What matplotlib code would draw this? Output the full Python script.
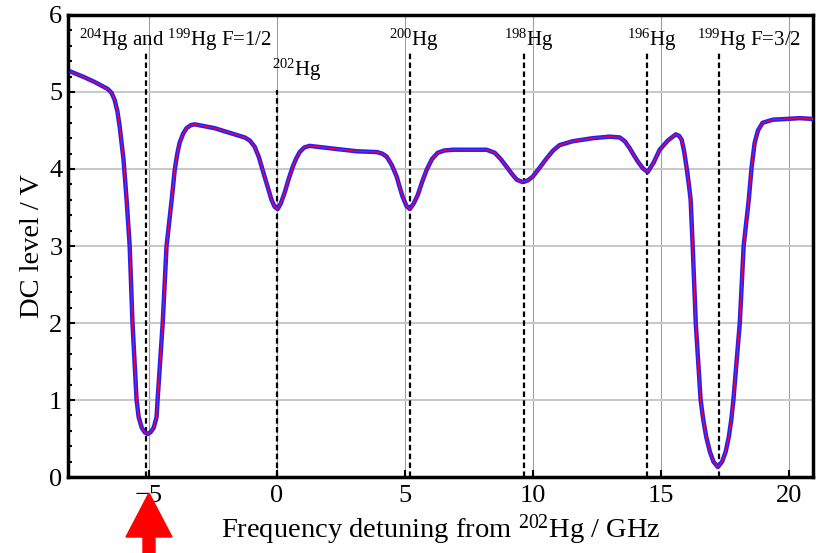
import numpy as np
import matplotlib.pyplot as plt
from matplotlib.patches import FancyArrow

plt.rcParams['font.family'] = ['Liberation Serif', 'DejaVu Serif']
plt.rcParams['mathtext.fontset'] = 'custom'
plt.rcParams['mathtext.rm'] = 'Liberation Serif'
plt.rcParams['mathtext.default'] = 'regular'

# spectrum (GHz, V)
freq = [-8.01, -7.50, -7.11, -6.60, -6.45, -6.33, -6.22, -6.13, -5.98, -5.86,
        -5.74, -5.63, -5.47, -5.39, -5.27, -5.15, -5.04, -4.93, -4.80, -4.69,
        -4.65, -4.45, -4.30, -4.10, -3.98, -3.88, -3.79, -3.65, -3.52, -3.35,
        -3.20, -2.42, -1.84, -1.25, -1.05, -0.86, -0.70, -0.55, -0.38, -0.20,
        -0.08, 0.04, 0.16, 0.31, 0.47, 0.63, 0.77, 0.90, 1.08, 1.29,
        2.07, 3.13, 3.91, 4.12, 4.30, 4.50, 4.69, 4.80, 4.92, 5.07,
        5.20, 5.35, 5.51, 5.68, 5.86, 6.07, 6.29, 6.55, 6.88, 8.20,
        8.52, 8.75, 8.98, 9.18, 9.38, 9.61, 9.80, 10.0, 10.28, 10.55,
        10.80, 11.05, 11.56, 12.34, 13.01, 13.40, 13.60, 13.79, 13.95, 14.10,
        14.30, 14.49, 14.72, 14.96, 15.28, 15.59, 15.72, 15.82, 15.92, 16.02,
        16.10, 16.17, 16.25, 16.37, 16.56, 16.66, 16.78, 16.92, 17.06, 17.23,
        17.40, 17.54, 17.66, 17.76, 17.84, 18.09, 18.24, 18.44,
        18.55, 18.67, 18.80, 18.98, 19.38, 20.43, 20.94]
dc = [5.26, 5.19, 5.13, 5.04, 4.99, 4.90, 4.75, 4.55, 4.12, 3.60,
      3.00, 2.00, 1.00, 0.78, 0.64, 0.58, 0.56, 0.58, 0.64, 0.78,
      1.00, 2.00, 3.00, 3.60, 3.99, 4.20, 4.34, 4.46, 4.53, 4.57,
      4.58, 4.53, 4.47, 4.41, 4.37, 4.29, 4.16, 3.99, 3.80, 3.60,
      3.51, 3.48, 3.55, 3.69, 3.87, 4.03, 4.14, 4.22, 4.28, 4.30,
      4.27, 4.23, 4.22, 4.20, 4.16, 4.05, 3.90, 3.77, 3.64, 3.52,
      3.48, 3.55, 3.66, 3.83, 3.99, 4.13, 4.21, 4.24, 4.25, 4.25,
      4.21, 4.13, 4.03, 3.94, 3.86, 3.83, 3.85, 3.90, 4.02, 4.14,
      4.24, 4.31, 4.36, 4.40, 4.42, 4.41, 4.36, 4.27, 4.18, 4.10,
      4.01, 3.96, 4.08, 4.25, 4.37, 4.45, 4.43, 4.38, 4.22, 4.00,
      3.80, 3.60, 3.00, 2.00, 1.00, 0.75, 0.52, 0.33, 0.20, 0.13,
      0.20, 0.33, 0.52, 0.75, 1.00, 2.00, 3.00, 3.60,
      4.02, 4.34, 4.50, 4.60, 4.64, 4.66, 4.65]

# isotope line positions and labels
line_pos = [-5.1, 0.0, 5.2, 9.65, 14.45, 17.27]
line_top = [5.52, 5.03, 5.52, 5.52, 5.52, 5.52]
labels = [r'$^{204}$Hg and $^{199}$Hg F=1/2', r'$^{202}$Hg', r'$^{200}$Hg',
          r'$^{198}$Hg', r'$^{196}$Hg', r'$^{199}$Hg F=3/2']
label_x = [-7.70, -0.20, 4.38, 8.87, 13.67, 16.41]
label_y = [5.60, 5.21, 5.60, 5.60, 5.60, 5.60]

fig = plt.figure(figsize=(8.19, 5.53), dpi=100)
ax = fig.add_axes([0.083, 0.1374, 0.9097, 0.8355])

for x in [-5, 0, 5, 10, 15, 20]:
    ax.axvline(x, color='#a0a0a0', lw=0.8, zorder=0)
for y in [1, 2, 3, 4, 5]:
    ax.axhline(y, color='#c8c8c8', lw=1.4, zorder=0)

for x, top in zip(line_pos, line_top):
    ax.plot([x, x], [0, top], color='k', lw=1.6, linestyle=(0, (2.5, 1.5)), zorder=2)

ax.plot(freq, dc, color='#2020ff', lw=3.2, solid_joinstyle='round', zorder=3)
ax.plot(freq, dc, color='#ff0030', lw=0.9, zorder=4)

for t, x, y in zip(labels, label_x, label_y):
    ax.text(x, y, t, fontsize=15, ha='left', va='baseline')

ax.set_xlim(-8.15, 20.95)
ax.set_ylim(0, 6)
ax.set_xticks([-5, 0, 5, 10, 15, 20])
ax.set_yticks([0, 1, 2, 3, 4, 5, 6])
ax.set_yticks(np.arange(0, 6.01, 0.2), minor=True)
ax.tick_params(axis='both', which='major', direction='in', length=5, width=1.5,
               labelsize=19, pad=6)
ax.tick_params(axis='y', which='minor', direction='in', length=3, width=1.5)
ax.tick_params(axis='y', pad=4)
for s in ax.spines.values():
    s.set_linewidth(2.5)

ax.set_xlabel(r'Frequency detuning from $^{202}$Hg / GHz', fontsize=20.5, labelpad=4)
ax.set_ylabel('DC level / V', fontsize=20.5, labelpad=3)

arrow = FancyArrow(149 / 819, 0, 0, (553 - 493) / 553, width=12 / 819,
                   head_width=46 / 819, head_length=44 / 553,
                   length_includes_head=True, color='#ff0000',
                   transform=fig.transFigure, clip_on=False)
fig.patches.append(arrow)

fig.savefig('out.png', dpi=100)
